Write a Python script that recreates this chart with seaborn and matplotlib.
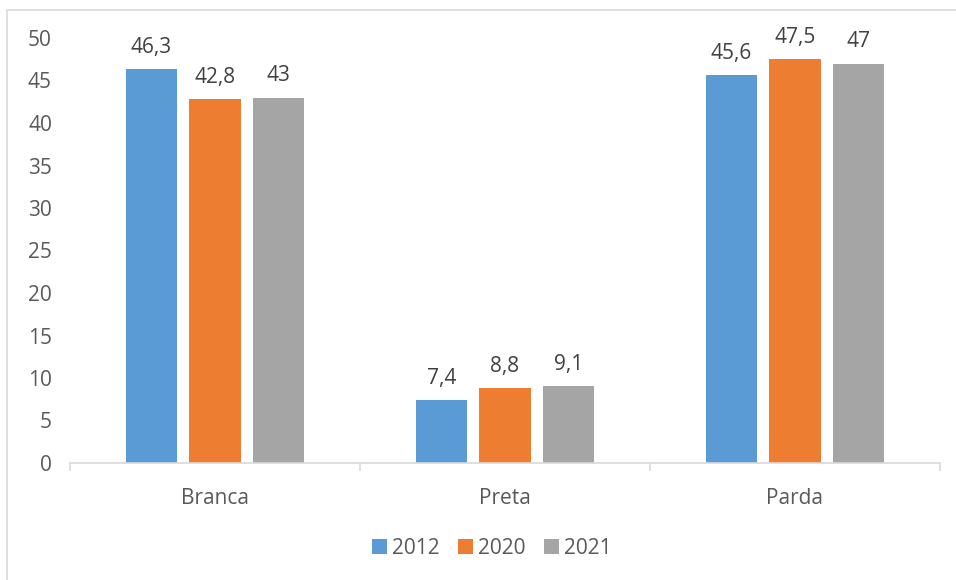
import matplotlib
matplotlib.use("Agg")
import matplotlib.pyplot as plt
import seaborn as sns
import pandas as pd
from matplotlib.patches import Rectangle

categories = ["Branca", "Preta", "Parda"]
years = ["2012", "2020", "2021"]
values_2012 = [46.3, 7.4, 45.6]
values_2020 = [42.8, 8.8, 47.5]
values_2021 = [43.0, 9.1, 47.0]
colors = ["#5B9BD5", "#ED7D31", "#A5A5A5"]

rows = []
for yr, vals in zip(years, [values_2012, values_2020, values_2021]):
    for c, v in zip(categories, vals):
        rows.append({"cat": c, "year": yr, "val": v})
df = pd.DataFrame(rows)

sns.set_style("white")
plt.rcParams["font.family"] = ["Open Sans", "DejaVu Sans"]
text_color = "#595959"
fs = 15

fig = plt.figure(figsize=(9.56, 5.8), dpi=100)
ax = fig.add_axes([70/956, 1-463/580, 870/956, 425/580])

sns.barplot(data=df, x="cat", y="val", hue="year", order=categories,
            hue_order=years, palette=colors, width=0.66, gap=0.2,
            saturation=1, linewidth=0, ax=ax, legend=True)

for cont in ax.containers:
    labels = [f"{v:g}".replace(".", ",") for v in cont.datavalues]
    ax.bar_label(cont, labels=labels, padding=8, fontsize=fs, color="#404040")

ax.set_ylim(0, 50)
ax.set_xlim(-0.5, 2.5)
ax.set_yticks(range(0, 51, 5))
ax.set_xlabel("")
ax.set_ylabel("")
for s in ["top", "right", "left"]:
    ax.spines[s].set_visible(False)
ax.spines["bottom"].set_color("#D9D9D9")
ax.spines["bottom"].set_linewidth(1.2)

ax.tick_params(axis="y", left=False, length=0, pad=13, labelsize=fs, labelcolor=text_color)
ax.tick_params(axis="x", which="major", bottom=False, length=0, pad=18, labelsize=fs, labelcolor=text_color)
ax.set_xticks([-0.5, 0.5, 1.5, 2.5], minor=True)
ax.tick_params(axis="x", which="minor", bottom=True, length=6, width=1.2, color="#D9D9D9", direction="out")

leg = ax.legend(loc="center", bbox_to_anchor=(492/956, 1-(548/580)), bbox_transform=fig.transFigure,
                ncol=3, frameon=False, fontsize=fs, handlelength=0.7, handleheight=0.7,
                handletextpad=0.25, columnspacing=0.9)
for t in leg.get_texts():
    t.set_color(text_color)
for h in leg.legend_handles:
    h.set_linewidth(0)

fig.patches.append(Rectangle((7/956, -0.5), 2, 1.5 - 10/580, transform=fig.transFigure,
                             fill=False, edgecolor="#D9D9D9", linewidth=1.2, zorder=-1))

fig.savefig("out.png", dpi=100, facecolor="white")
